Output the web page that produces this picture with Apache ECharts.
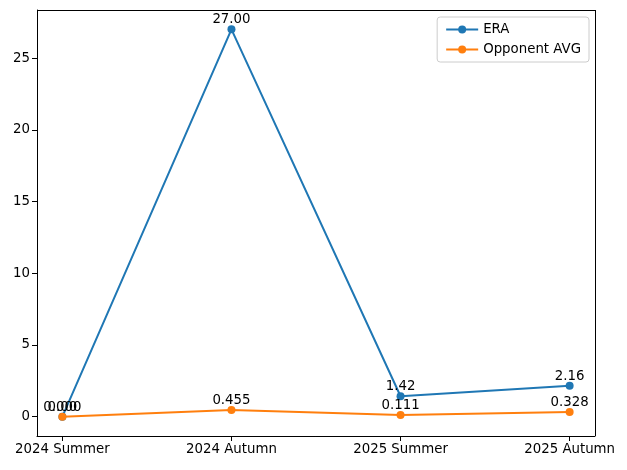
<!DOCTYPE html>
<html>
<head>
<meta charset="utf-8">
<script src="https://cdn.jsdelivr.net/npm/echarts@6/dist/echarts.min.js"></script>
<style>
  html, body { margin: 0; padding: 0; background: #fff; }
  #chart { width: 627px; height: 470px; }
</style>
</head>
<body>
<div id="chart"></div>
<script>
const seasons = ['2024 Summer', '2024 Autumn', '2025 Summer', '2025 Autumn']
const era = [0.00, 27.00, 1.42, 2.16]
const eraLabels = ['0.00', '27.00', '1.42', '2.16']
const oppAvg = [0.000, 0.455, 0.111, 0.328]
const oppLabels = ['0.000', '0.455', '0.111', '0.328']
const yTicks = [0, 5, 10, 15, 20, 25]

const font = 'DejaVu Sans'
const fs = 13.33
const chart = echarts.init(document.getElementById('chart'))

const makeSeries = (name, values, labels, color, z) => ({
  name: name,
  type: 'line',
  data: values.map((v, i) => [i, v]),
  z: z,
  symbol: 'circle',
  symbolSize: 8,
  itemStyle: { color: color },
  lineStyle: { color: color, width: 2 },
  label: {
    show: true,
    position: 'top',
    distance: -1,
    color: '#000',
    fontFamily: font,
    fontSize: fs,
    formatter: (p) => labels[p.dataIndex]
  },
  emphasis: { disabled: true },
  animation: false
})

const option = {
  animation: false,
  grid: { left: 37, right: 32, top: 10, bottom: 34 },
  legend: {
    orient: 'vertical',
    right: 38,
    top: 17,
    padding: [6, 8, 6, 8],
    itemGap: 7,
    itemWidth: 32,
    itemHeight: 10,
    borderColor: '#cccccc',
    borderWidth: 1,
    borderRadius: 3,
    backgroundColor: 'rgba(255,255,255,0.8)',
    textStyle: { fontFamily: font, fontSize: fs, color: '#000' },
    data: ['ERA', 'Opponent AVG']
  },
  xAxis: {
    type: 'value',
    min: -0.15,
    max: 3.15,
    axisLine: { show: true, onZero: false, lineStyle: { color: '#000', width: 1 } },
    axisTick: { show: true, inside: false, length: 5, lineStyle: { color: '#000' }, customValues: [0, 1, 2, 3] },
    axisLabel: {
      customValues: [0, 1, 2, 3],
      formatter: (v) => seasons[Math.round(v)],
      fontFamily: font, fontSize: fs, color: '#000', margin: 7
    },
    splitLine: { show: false }
  },
  yAxis: {
    type: 'value',
    min: -1.35,
    max: 28.35,
    axisLine: { show: true, onZero: false, lineStyle: { color: '#000', width: 1 } },
    axisTick: { show: true, inside: false, length: 5, lineStyle: { color: '#000' }, customValues: yTicks },
    axisLabel: {
      customValues: yTicks,
      fontFamily: font, fontSize: fs, color: '#000', margin: 7
    },
    splitLine: { show: false }
  },
  series: [
    makeSeries('ERA', era, eraLabels, '#1f77b4', 2),
    makeSeries('Opponent AVG', oppAvg, oppLabels, '#ff7f0e', 3),
    {
      // top & right spines
      type: 'line',
      data: [],
      markLine: {
        silent: true,
        symbol: 'none',
        label: { show: false },
        lineStyle: { color: '#000', width: 1, type: 'solid' },
        data: [{ yAxis: 28.35 }, { xAxis: 3.15 }]
      }
    }
  ]
}

chart.setOption(option)
</script>
</body>
</html>
